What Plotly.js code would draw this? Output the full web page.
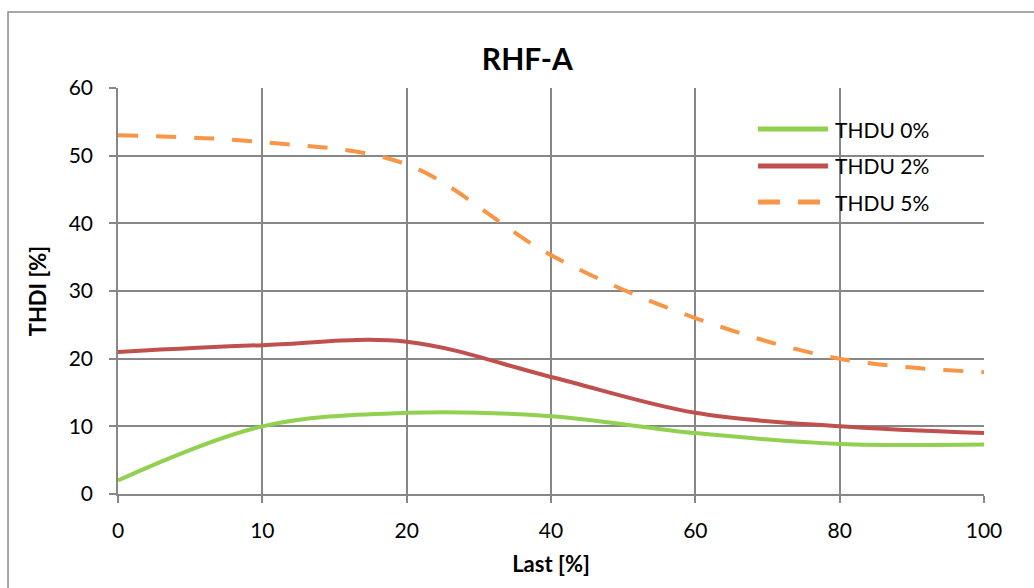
<!DOCTYPE html>
<html>
<head>
<meta charset="utf-8">
<script src="https://cdn.plot.ly/plotly-3.0.1.min.js"></script>
<style>html,body{margin:0;padding:0;background:#fff;overflow:hidden;}#chart{width:1034px;height:588px;}</style>
</head>
<body>
<div id="chart"></div>
<script>
const categories = ['0', '10', '20', '40', '60', '80', '100'];
const thdu0 = [2, 10, 12, 11.5, 9, 7.4, 7.3];
const thdu2 = [21, 22, 22.5, 17.3, 12, 10, 9];
const thdu5 = [53, 52, 48.7, 35.3, 26, 20, 18];
const seriesNames = ['THDU 0%', 'THDU 2%', 'THDU 5%'];
const yTicks = [0, 10, 20, 30, 40, 50, 60];

const colors = ['#92D050', '#C0504D', '#F79646'];
const dashes = ['solid', 'solid', '20px,18px'];
const values = [thdu0, thdu2, thdu5];
const font = 'Lato, "Open Sans", sans-serif';

const traces = values.map((v, i) => ({
  x: categories, y: v, name: seriesNames[i], type: 'scatter', mode: 'lines',
  line: {color: colors[i], width: 4, shape: 'spline', smoothing: 1, dash: dashes[i]},
  showlegend: false, hoverinfo: 'x+y+name'
}));

// custom legend (long line samples like the original)
const legY = [0.899, 0.808, 0.719];
const shapes = [{
  type: 'path', xref: 'paper', yref: 'paper',
  path: 'M -0.127 -0.3 L -0.127 1.187 L 1.2 1.187',
  line: {color: '#8c8c8c', width: 1.5}, layer: 'below'
}];
const annotations = [];
seriesNames.forEach((n, i) => {
  shapes.push({type: 'line', xref: 'paper', yref: 'paper', x0: 0.739, x1: 0.820, y0: legY[i], y1: legY[i],
    line: {color: colors[i], width: 5, dash: i === 2 ? '22px,18px' : 'solid'}});
  annotations.push({xref: 'paper', yref: 'paper', x: 0.826, y: legY[i], xanchor: 'left', yanchor: 'middle',
    text: n, showarrow: false, font: {family: font, size: 21, color: '#000'}});
});

const layout = {
  width: 1034, height: 588,
  margin: {l: 118, r: 50, t: 88, b: 94},
  paper_bgcolor: '#fff', plot_bgcolor: '#fff',
  title: {text: '<b>RHF-A</b>', font: {family: font, size: 30, color: '#000'},
    x: 0.51, xref: 'container', y: 0.898, yref: 'container', yanchor: 'middle'},
  xaxis: {
    type: 'category', range: [0, 6], tickvals: categories, ticktext: categories,
    showgrid: true, gridcolor: '#878787', gridwidth: 1.5,
    showline: true, linecolor: '#878787', linewidth: 1.5,
    ticks: 'outside', ticklen: 7, tickcolor: '#878787', tickwidth: 1.5,
    ticklabelstandoff: 10,
    tickfont: {family: font, size: 21, color: '#000'},
    title: {text: '<b>Last [%]</b>', font: {family: font, size: 22, color: '#000'}, standoff: 16},
    zeroline: false, fixedrange: true
  },
  yaxis: {
    range: [0, 60], tickvals: yTicks, ticktext: yTicks.map(String),
    showgrid: true, gridcolor: '#878787', gridwidth: 1.5,
    showline: true, linecolor: '#878787', linewidth: 1.5,
    ticks: 'outside', ticklen: 7, tickcolor: '#878787', tickwidth: 1.5,
    ticklabelstandoff: 12,
    tickfont: {family: font, size: 21, color: '#000'},
    title: {text: '<b>THDI [%]</b>', font: {family: font, size: 22, color: '#000'}, standoff: 16},
    zeroline: false, fixedrange: true
  },
  shapes: shapes,
  annotations: annotations,
  showlegend: false
};

Plotly.newPlot('chart', traces, layout, {displayModeBar: false});
</script>
</body>
</html>
